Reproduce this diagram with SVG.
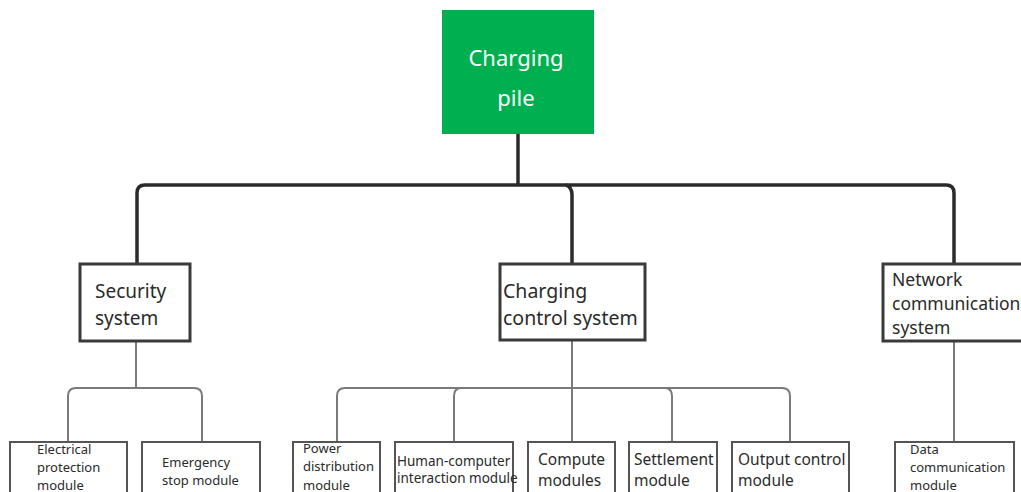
<svg xmlns="http://www.w3.org/2000/svg" width="1021" height="492" viewBox="0 0 1021 492">
<style>
.t{font-family:"Noto Sans","Liberation Sans",sans-serif;fill:#2a2a2a}
.thick{fill:none;stroke:#2b2b2b;stroke-width:3.5}
.thin{fill:none;stroke:#7a7a7a;stroke-width:2}
.box{fill:#fff;stroke:#3a3a3a;stroke-width:3}
.sbox{fill:#fff;stroke:#555;stroke-width:2}
</style>
<rect width="1021" height="492" fill="#fff"/>
<g id="connectors">
<path class="thick" d="M518 134 V185"/>
<path class="thick" d="M137 263 V193 Q137 185 145 185 H946 Q954 185 954 193 V263"/>
<path class="thick" d="M566 185 Q572 187 572 195 V263"/>
<path class="thin" d="M136 342 V388"/>
<path class="thin" d="M68 442 V396 Q68 388 76 388 H194 Q202 388 202 396 V442"/>
<path class="thin" d="M572 340 V442"/>
<path class="thin" d="M337 442 V396 Q337 388 345 388 H782 Q790 388 790 396 V442"/>
<path class="thin" d="M454 442 V396 Q454 389 460 388"/>
<path class="thin" d="M666 388 Q672 389 672 396 V442"/>
<path class="thin" d="M954 342 V442"/>
</g>
<g id="charging-pile">
<rect x="442" y="10" width="152" height="124" fill="#00b050"/>
<text class="t" x="516" y="66" font-size="22" text-anchor="middle" style="fill:#fff">Charging</text>
<text class="t" x="516" y="106" font-size="22" text-anchor="middle" style="fill:#fff">pile</text>
</g>
<g id="security-system">
<rect class="box" x="80" y="264" width="110" height="77"/>
<text class="t" x="95" y="298" font-size="19">Security</text>
<text class="t" x="95" y="325" font-size="19">system</text>
</g>
<g id="charging-control-system">
<rect class="box" x="500" y="264" width="145" height="76"/>
<text class="t" x="503" y="298" font-size="19.5">Charging</text>
<text class="t" x="503" y="325" font-size="19.5">control system</text>
</g>
<g id="network-communication-system">
<rect class="box" x="883" y="264" width="145" height="77"/>
<text class="t" x="892" y="286" font-size="17.5">Network</text>
<text class="t" x="892" y="310" font-size="17.5">communication</text>
<text class="t" x="892" y="334" font-size="17.5">system</text>
</g>
<g id="electrical-protection-module">
<rect class="sbox" x="10" y="442" width="117" height="60"/>
<text class="t" x="37" y="454" font-size="13">Electrical</text>
<text class="t" x="37" y="472" font-size="13">protection</text>
<text class="t" x="37" y="490" font-size="13">module</text>
</g>
<g id="emergency-stop-module">
<rect class="sbox" x="142" y="442" width="118" height="60"/>
<text class="t" x="162" y="467" font-size="13">Emergency</text>
<text class="t" x="162" y="485" font-size="13">stop module</text>
</g>
<g id="power-distribution-module">
<rect class="sbox" x="293" y="442" width="87" height="60"/>
<text class="t" x="303" y="453" font-size="13">Power</text>
<text class="t" x="303" y="471" font-size="13">distribution</text>
<text class="t" x="303" y="490" font-size="13">module</text>
</g>
<g id="human-computer-interaction-module">
<rect class="sbox" x="395" y="442" width="118" height="60"/>
<text class="t" x="397" y="466" font-size="13.5">Human-computer</text>
<text class="t" x="397" y="483" font-size="13.5">interaction module</text>
</g>
<g id="compute-modules">
<rect class="sbox" x="528" y="442" width="87" height="60"/>
<text class="t" x="538" y="465" font-size="15.5">Compute</text>
<text class="t" x="538" y="486" font-size="15.5">modules</text>
</g>
<g id="settlement-module">
<rect class="sbox" x="629" y="442" width="88" height="60"/>
<text class="t" x="634" y="465" font-size="15.5">Settlement</text>
<text class="t" x="634" y="486" font-size="15.5">module</text>
</g>
<g id="output-control-module">
<rect class="sbox" x="732" y="442" width="117" height="60"/>
<text class="t" x="738" y="465" font-size="15.5">Output control</text>
<text class="t" x="738" y="486" font-size="15.5">module</text>
</g>
<g id="data-communication-module">
<rect class="sbox" x="895" y="442" width="119" height="60"/>
<text class="t" x="910" y="454" font-size="13">Data</text>
<text class="t" x="910" y="472" font-size="13">communication</text>
<text class="t" x="910" y="490" font-size="13">module</text>
</g>
</svg>
